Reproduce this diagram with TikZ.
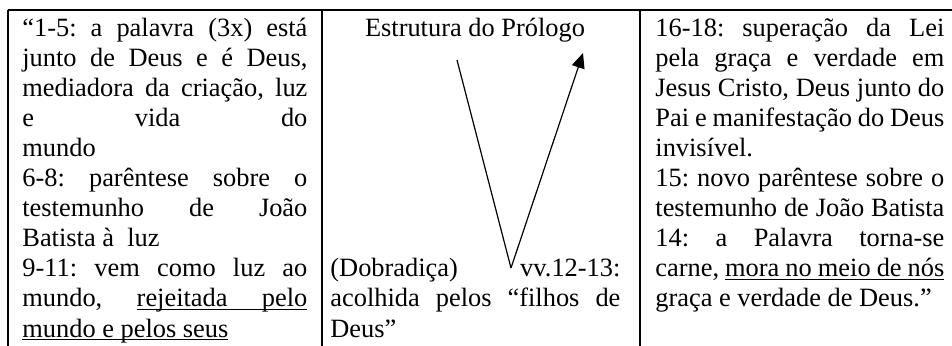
\documentclass[tikz,border=0pt]{standalone}
\usepackage{fontspec}
\setmainfont{Liberation Serif}
\usepackage{tikz}
\usetikzlibrary{arrows.meta}
\tikzstyle{cell} = [anchor=base west, inner sep=0pt, font=\fontsize{13.2}{15.05}\selectfont\frenchspacing]
\tikzstyle{gridline} = [line width=1pt]
\tikzstyle{vline} = [line width=0.6pt]

\newcommand{\jline}[1]{\hbox to\hsize{#1}}
\newcommand{\lline}[1]{\hbox{#1}}
\newcommand{\colbox}[2]{\vtop{\hsize=#1 #2}}
\newcommand{\ulword}[1]{\setbox0\hbox{#1}\rlap{\vrule height -1.1pt depth 1.6pt width\wd0}\box0}
\newcommand{\ulspace}{\leaders\hrule height -1.1pt depth 1.6pt\hskip\fontdimen2\font plus\fontdimen3\font minus\fontdimen4\font}

\begin{document}
\begin{tikzpicture}[x=0.5pt, y=-0.5pt]
  \useasboundingbox (0,0) rectangle (952,345);

  % table lines
  \draw[gridline] (8,10) -- (953,10);
  \draw[gridline] (8,10) -- (8,350);
  \draw[gridline] (322,10) -- (322,350);
  \draw[gridline] (640,10) -- (640,350);

  % left column
  \node[cell] (left) at (22,36) {\colbox{142.5pt}{%
    \jline{“1-5: a palavra (3x) está}
    \jline{junto de Deus e é Deus,}
    \jline{mediadora da criação, luz}
    \jline{e vida do}
    \lline{mundo}
    \jline{6-8: parêntese sobre o}
    \jline{testemunho de João}
    \lline{Batista à\ \ luz}
    \jline{9-11: vem como luz ao}
    \jline{mundo, \ulword{rejeitada}\ulspace\ulword{pelo}}
    \lline{\ulword{mundo}\ulspace\ulword{e}\ulspace\ulword{pelos}\ulspace\ulword{seus}}}};

  % middle column
  \node[cell, anchor=base] (title) at (475,36) {Estrutura do Prólogo};
  \node[cell] (mid) at (330,276.8) {\colbox{145pt}{%
    \jline{(Dobradiça) vv.12-13:}
    \jline{acolhida pelos “filhos de}
    \lline{Deus”}}};

  % right column
  \node[cell] (right) at (655,36) {\colbox{144.5pt}{%
    \jline{16-18: superação da Lei}
    \jline{pela graça e verdade em}
    \jline{Jesus Cristo, Deus junto do}
    \jline{Pai e manifestação do Deus}
    \lline{invisível.}
    \jline{15: novo parêntese sobre o}
    \jline{testemunho de João Batista}
    \jline{14: a Palavra torna-se}
    \jline{carne, \ulword{mora}\ulspace\ulword{no}\ulspace\ulword{meio}\ulspace\ulword{de}\ulspace\ulword{nós}}
    \lline{graça e verdade de Deus.”}}};

  % the V
  \coordinate (vstart) at (457,60);
  \coordinate (vhinge) at (511,268);
  \coordinate (vtip) at (583,53);
  \draw[vline] (vstart) -- (vhinge);
  \draw[vline, -{Triangle[length=7.5pt, width=6.5pt]}] (vhinge) -- (vtip);

\end{tikzpicture}
\end{document}
